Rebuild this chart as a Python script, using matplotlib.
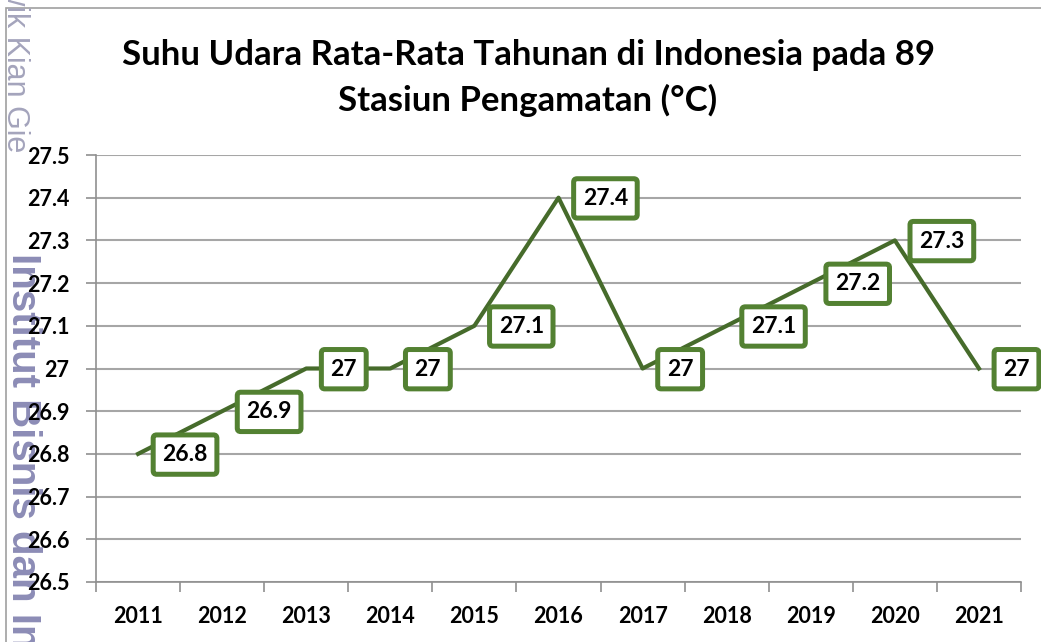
import matplotlib.pyplot as plt
from matplotlib.patches import Rectangle

years = ["2011", "2012", "2013", "2014", "2015", "2016", "2017", "2018", "2019", "2020", "2021"]
suhu = [26.8, 26.9, 27.0, 27.0, 27.1, 27.4, 27.0, 27.1, 27.2, 27.3, 27.0]
label_txt = ["26.8", "26.9", "27", "27", "27.1", "27.4", "27", "27.1", "27.2", "27.3", "27"]
yticks = [26.5, 26.6, 26.7, 26.8, 26.9, 27.0, 27.1, 27.2, 27.3, 27.4, 27.5]
ytick_txt = ["26.5", "26.6", "26.7", "26.8", "26.9", "27", "27.1", "27.2", "27.3", "27.4", "27.5"]

plt.rcParams['font.family'] = ['Lato', 'DejaVu Sans']

fig = plt.figure(figsize=(10.41, 6.42), dpi=100)
ax = fig.add_axes([96/1041, 1-582/642, (1021-96)/1041, (582-155)/642])

# watermark on the left edge
fig.text(23/1041, 1-253/642, "Institut Bisnis dan Informatika Kwik Kian Gie",
         rotation=270, ha='center', va='top', fontsize=29, fontweight='bold',
         family='Liberation Sans', color='#8c8cb6', zorder=-1)
fig.text(15/1041, 1-152/642, "Kwik Kian Gie", rotation=270, ha='center', va='bottom',
         fontsize=22, family='Liberation Sans', color='#a4a4bc', zorder=-1)

# outer chart border
fig.patches.append(Rectangle((6/1041, -0.1), 1.2, 1.1 - 8/642, transform=fig.transFigure,
                             fill=False, edgecolor='#a0a0a0', linewidth=1.2, zorder=-2))

x = list(range(len(years)))
ax.plot(x, suhu, color='#466b2b', linewidth=3, zorder=3)

for xi, yi, t in zip(x, suhu, label_txt):
    ax.annotate(t, (xi, yi), xytext=(17.5, -0.5), textcoords='offset points',
                ha='left', va='center', fontsize=16.5, fontweight='bold', color='black',
                bbox=dict(boxstyle='round,pad=0.4,rounding_size=0.15', facecolor='white',
                          edgecolor='#538132', linewidth=3.6), zorder=4)

ax.set_xlim(-0.5, len(years) - 0.5)
ax.set_ylim(26.5, 27.5)
ax.set_yticks(yticks)
ax.set_yticklabels(ytick_txt, fontsize=15.5, fontweight='bold')
ax.set_xticks(x)
ax.set_xticklabels(years, fontsize=15.5, fontweight='bold')
ax.set_xticks([i - 0.5 for i in range(len(years) + 1)], minor=True)
ax.tick_params(axis='x', which='major', length=0, pad=17)
ax.tick_params(axis='x', which='minor', length=7, color='#909090', width=1.2)
ax.tick_params(axis='y', length=7, color='#909090', width=1.2, pad=12)

ax.grid(axis='y', color='#a6a6a6', linewidth=1.5)
ax.set_axisbelow(True)
for s in ['top', 'right']:
    ax.spines[s].set_visible(False)
for s in ['left', 'bottom']:
    ax.spines[s].set_color('#909090')
    ax.spines[s].set_linewidth(1.2)

fig.text(528/1041, 1-55/642, "Suhu Udara Rata-Rata Tahunan di Indonesia pada 89",
         ha='center', va='center', fontsize=25, fontweight='bold')
fig.text(528/1041, 1-100/642, "Stasiun Pengamatan (°C)",
         ha='center', va='center', fontsize=25, fontweight='bold')

fig.savefig("out.png", dpi=100)
